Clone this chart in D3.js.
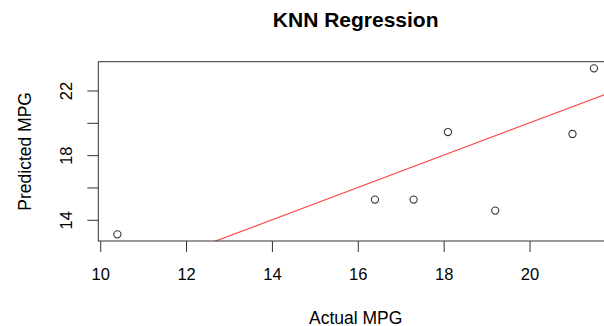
<!DOCTYPE html>
<html>
<head>
<meta charset="utf-8">
<script src="https://cdn.jsdelivr.net/npm/d3@7"></script>
<style>
  body { margin: 0; background: #fff; }
  text { font-family: "Liberation Sans", Arial, sans-serif; fill: #000; }
</style>
</head>
<body>
<div id="chart"></div>
<script>
// KNN predictions vs actual mpg (test set)
const actualMpg = [10.4, 16.4, 17.3, 18.1, 19.2, 21.0, 21.5];
const predictedMpg = [13.1, 15.25, 15.25, 19.43, 14.57, 19.31, 23.37];
const xTicks = [10, 12, 14, 16, 18, 20];
const yTicks = [14, 16, 18, 20, 22];
const yTickLabels = ['14', '', '18', '', '22'];

const width = 604, height = 326;
const margin = { top: 61.7, right: -9, bottom: 85, left: 98.3 };
const innerW = width - margin.left - margin.right;
const innerH = height - margin.top - margin.bottom;

const svg = d3.select('#chart')
    .append('svg')
    .attr('width', width)
    .attr('height', height);

// R style 4% padding on both axes
const xExt = d3.extent(actualMpg), yExt = d3.extent(predictedMpg);
const xPad = (xExt[1] - xExt[0]) * 0.04, yPad = (yExt[1] - yExt[0]) * 0.04;

const x = d3.scaleLinear()
    .domain([xExt[0] - xPad, xExt[1] + xPad])
    .range([0, innerW]);
const y = d3.scaleLinear()
    .domain([yExt[0] - yPad, yExt[1] + yPad])
    .range([innerH, 0]);

const g = svg.append('g')
    .attr('transform', `translate(${margin.left},${margin.top})`);

g.append('defs').append('clipPath')
    .attr('id', 'clip')
    .append('rect')
    .attr('width', innerW)
    .attr('height', innerH);

// reference line y = x
const lineDomain = x.domain();
g.append('line')
    .attr('clip-path', 'url(#clip)')
    .attr('x1', x(lineDomain[0])).attr('y1', y(lineDomain[0]))
    .attr('x2', x(lineDomain[1])).attr('y2', y(lineDomain[1]))
    .attr('stroke', '#ff4a4a')
    .attr('stroke-width', 1.2);

g.selectAll('circle')
    .data(actualMpg)
    .join('circle')
    .attr('cx', d => x(d))
    .attr('cy', (d, i) => y(predictedMpg[i]))
    .attr('r', 3.6)
    .attr('fill', 'none')
    .attr('stroke', '#333')
    .attr('stroke-width', 1.1);

// box
g.append('rect')
    .attr('width', innerW)
    .attr('height', innerH)
    .attr('fill', 'none')
    .attr('stroke', '#333')
    .attr('stroke-width', 1);

// axes
const xAxis = g.append('g')
    .attr('transform', `translate(0,${innerH})`)
    .call(d3.axisBottom(x).tickValues(xTicks).tickSize(11).tickPadding(16).tickSizeOuter(0));
const yAxis = g.append('g')
    .call(d3.axisLeft(y).tickValues(yTicks).tickSize(11).tickFormat((d, i) => yTickLabels[i]).tickSizeOuter(0));

[xAxis, yAxis].forEach(a => {
    a.select('.domain').remove();
    a.selectAll('.tick line').attr('stroke', '#333');
    a.selectAll('.tick text').style('font-size', '16.5px');
});

yAxis.selectAll('.tick text')
    .attr('x', 0)
    .attr('text-anchor', 'middle')
    .attr('transform', 'translate(-32,0) rotate(-90)')
    .attr('dy', '0.35em');

// title and labels
const cx = margin.left + innerW / 2;
svg.append('text')
    .attr('x', cx).attr('y', 26.5)
    .attr('text-anchor', 'middle')
    .style('font-size', '21px').style('font-weight', 'bold')
    .text('KNN Regression');

svg.append('text')
    .attr('x', cx).attr('y', 323.5)
    .attr('text-anchor', 'middle')
    .style('font-size', '17.5px')
    .text('Actual MPG');

svg.append('text')
    .attr('transform', `translate(30.5,${margin.top + innerH / 2}) rotate(-90)`)
    .attr('text-anchor', 'middle')
    .style('font-size', '17.5px')
    .text('Predicted MPG');
</script>
</body>
</html>
